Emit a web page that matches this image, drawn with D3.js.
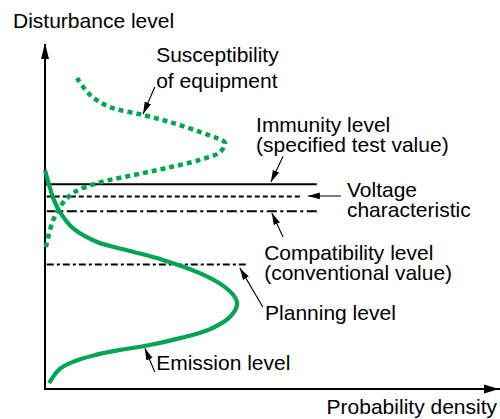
<!DOCTYPE html>
<html><head><meta charset="utf-8">
<script src="https://cdn.jsdelivr.net/npm/d3@7"></script>
<style>
body{margin:0;background:#fff}
svg{display:block}
text{font-family:"Liberation Sans",Arial,Helvetica,sans-serif;font-size:21px;fill:#000}
</style>
</head><body>
<svg id="c" width="500" height="419"></svg>
<script>
// ---- data (density on x, disturbance level on y, both 0..100) ----
const emissionDensity = [0, 0.9, 2.0, 3.3, 6.2, 11.6, 18.9, 26.2, 34.4, 39.3, 42.0, 42.7, 41.3, 36.7, 30.0, 23.3, 16.7, 11.1, 6.7, 3.3, 0.9];
const emissionLevel   = [63.3, 59.0, 54.6, 51.2, 46.5, 42.5, 39.9, 37.3, 33.5, 30.1, 26.9, 24.6, 21.1, 17.3, 14.7, 12.7, 11.3, 9.8, 8.1, 5.8, 1.7];

const suscDensity = [7.1, 10.0, 14.4, 21.8, 28.4, 34.4, 38.2, 40.0, 38.9, 34.4, 27.1, 19.6, 11.6, 6.2, 3.3, 1.6, 0.2];
const suscLevel   = [89.9, 85.0, 81.5, 79.2, 76.9, 74.3, 72.5, 71.1, 68.5, 66.2, 63.9, 61.8, 59.5, 56.6, 52.6, 48.0, 41.0];

const levelNames  = ["Immunity level", "Voltage characteristic", "Compatibility level", "Planning level"];
const levelValues = [59.2, 55.6, 51.4, 36.0];
const levelStart  = [0, 0.4, 0.4, 0.4];
const levelEnd    = [60.4, 57.1, 60.4, 45.1];

const labelLines = [
  ["Susceptibility", "of equipment"],
  ["Immunity level", "(specified test value)"],
  ["Voltage", "characteristic"],
  ["Compatibility level", "(conventional value)"],
  ["Planning level"],
  ["Emission level"]
];
const labelX      = [24.7, 46.9, 67.1, 48.7, 48.9, 24.7];
const labelY      = [94.5, 74.4, 55.5, 37.4, 19.9, 5.5];
const arrowFromX  = [24.4, 52.9, 65.8, 52.9, 48.4, 24.4];
const arrowFromY  = [87.3, 67.3, 55.8, 43.9, 23.7, 4.9];
const arrowToX    = [21.8, 50.2, 58.4, 50.4, 43.3, 22.2];
const arrowToY    = [79.5, 59.8, 55.8, 50.9, 35.0, 11.8];

const xTitle = "Probability density";
const yTitle = "Disturbance level";

// ---- drawing ----
const svg = d3.select("#c");
const x = d3.scaleLinear().domain([0, 100]).range([45, 495]);
const y = d3.scaleLinear().domain([0, 100]).range([389, 43]);
const green = "#00a64f";

const defs = svg.append("defs");
defs.append("marker").attr("id", "ah").attr("markerUnits", "userSpaceOnUse")
  .attr("viewBox", "0 0 12 8").attr("refX", 12).attr("refY", 4)
  .attr("markerWidth", 12).attr("markerHeight", 8).attr("orient", "auto")
  .append("path").attr("d", "M0,0.6L12,4L0,7.4Z").attr("fill", "#000");

// axes (no ticks), with arrowheads
const xAxisScale = d3.scaleLinear().domain([0, 1]).range([x(0), 499]);
const yAxisScale = d3.scaleLinear().domain([0, 1]).range([y(0), 43]);
const gx = svg.append("g").attr("transform", `translate(0,${y(0)})`)
  .call(d3.axisBottom(xAxisScale).tickValues([]).tickSizeOuter(0));
const gy = svg.append("g").attr("transform", `translate(${x(0)},0)`)
  .call(d3.axisLeft(yAxisScale).tickValues([]).tickSizeOuter(0));
[gx, gy].forEach(g => g.select(".domain").attr("stroke", "#000").attr("stroke-width", 2)
  .attr("shape-rendering", "crispEdges"));
gx.select(".domain").attr("transform", "translate(0,-0.5)");
gy.select(".domain").attr("transform", "translate(-0.5,0)");
const xe = xAxisScale.range()[1], ye = yAxisScale.range()[1];
svg.append("path").attr("d", `M${xe},${y(0)}L${xe-15},${y(0)-4.5}L${xe-15},${y(0)+4.5}Z`).attr("fill", "#000");
svg.append("path").attr("d", `M${x(0)},${ye}L${x(0)-4},${ye+16}L${x(0)+4},${ye+16}Z`).attr("fill", "#000");

// horizontal levels
const dashes = [null, "5,3", "10,3.5,3,3.5", "7,3,3,3"];
levelValues.forEach((v, i) => {
  svg.append("line")
    .attr("x1", x(levelStart[i])).attr("x2", x(levelEnd[i]))
    .attr("y1", y(v)).attr("y2", y(v))
    .attr("stroke", "#000").attr("stroke-width", 2)
    .attr("stroke-dasharray", dashes[i]);
});

// curves
const line = d3.line().x(d => x(d[0])).y(d => y(d[1])).curve(d3.curveCatmullRom.alpha(0.5));
svg.append("path").datum(suscDensity.map((d, i) => [d, suscLevel[i]]))
  .attr("d", line).attr("fill", "none").attr("stroke", green)
  .attr("stroke-width", 4.5).attr("stroke-dasharray", "5,4");
svg.append("path").datum(emissionDensity.map((d, i) => [d, emissionLevel[i]]))
  .attr("d", line).attr("fill", "none").attr("stroke", green)
  .attr("stroke-width", 4.2);

// annotation arrows
arrowFromX.forEach((fx, i) => {
  svg.append("line")
    .attr("x1", x(fx)).attr("y1", y(arrowFromY[i]))
    .attr("x2", x(arrowToX[i])).attr("y2", y(arrowToY[i]))
    .attr("stroke", "#000").attr("stroke-width", 1.1)
    .attr("marker-end", "url(#ah)");
});

// labels
labelLines.forEach((lines, i) => {
  const t = svg.append("text").attr("x", x(labelX[i])).attr("y", y(labelY[i]));
  lines.forEach((s, j) => {
    t.append("tspan").attr("x", x(labelX[i])).attr("dy", j === 0 ? 0 : (i === 0 ? 26 : 20)).text(s);
  });
});

svg.append("text").attr("x", 13).attr("y", 28).text(yTitle);
svg.append("text").attr("x", 497).attr("y", 414).attr("text-anchor", "end").text(xTitle);
</script>
</body></html>
